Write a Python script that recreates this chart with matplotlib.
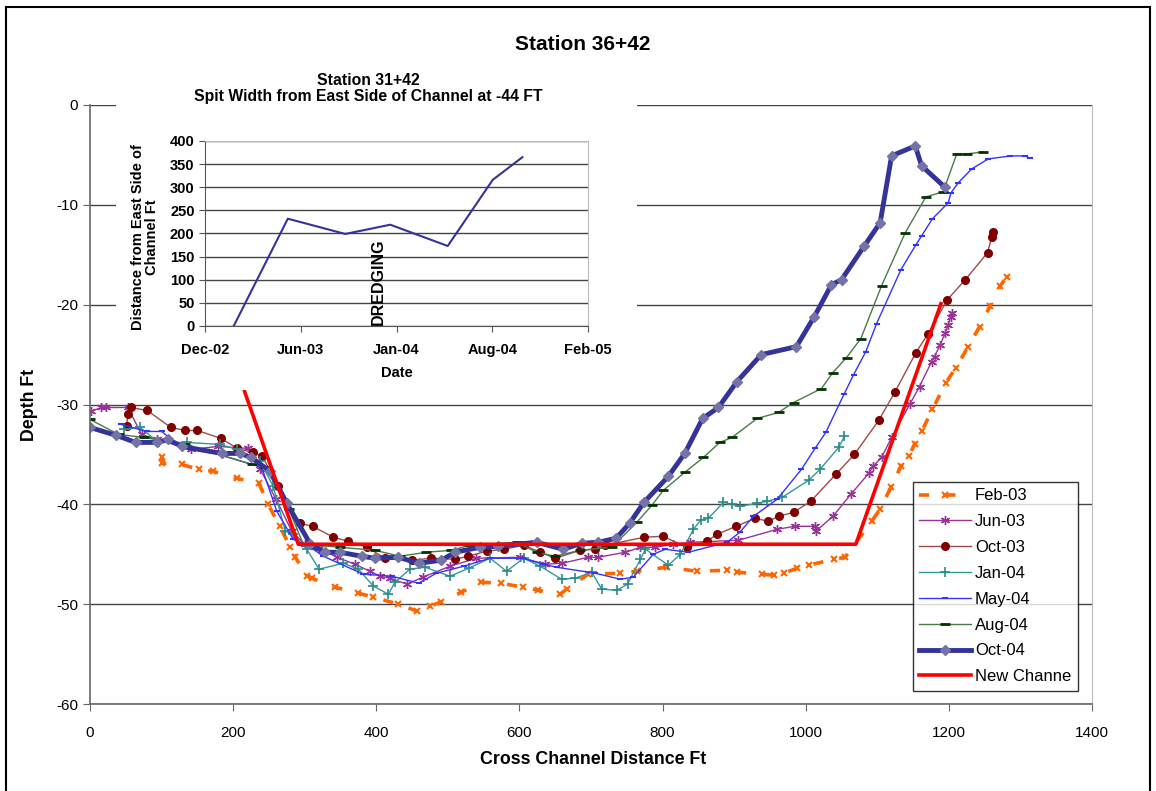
import matplotlib
matplotlib.use('Agg')
import matplotlib.pyplot as plt
from matplotlib.patches import Rectangle
from datetime import datetime

plt.rcParams['font.family'] = ['Liberation Sans', 'DejaVu Sans']
plt.rcParams['axes.unicode_minus'] = False

# ---- main chart: cross sections (distance ft, depth ft) ----
feb03_x = [100, 101, 128, 152, 172, 206, 236, 249, 265, 280, 287, 303, 310, 342, 375, 396, 431, 457, 475, 490,
           519, 547, 574, 605, 626, 657, 666, 696, 740, 764, 806, 848, 890, 904, 939, 955, 969, 988, 1004, 1039,
           1055, 1092, 1104, 1119, 1133, 1144, 1152, 1162, 1177, 1196, 1210, 1227, 1243, 1258, 1272, 1281]
feb03_y = [-35.3, -35.9, -36.0, -36.5, -36.7, -37.4, -37.9, -40.0, -42.2, -44.3, -45.3, -47.2, -47.4, -48.3, -48.9,
           -49.3, -50.0, -50.7, -50.2, -49.8, -48.8, -47.8, -47.9, -48.3, -48.6, -49.0, -48.5, -47.0, -46.9, -46.7,
           -46.3, -46.7, -46.6, -46.8, -47.0, -47.1, -46.9, -46.4, -46.1, -45.5, -45.3, -41.7, -40.5, -38.3, -36.2,
           -35.2, -34.0, -32.7, -30.5, -27.8, -26.3, -24.2, -22.2, -20.1, -18.1, -17.2]

jun03_x = [1, 16, 22, 53, 72, 93, 141, 179, 221, 238, 260, 282, 300, 320, 345, 370, 391, 405, 419, 443,
           465, 503, 540, 601, 636, 660, 696, 710, 748, 769, 790, 815, 839, 906, 960, 985, 1013, 1014, 1038, 1063,
           1088, 1094, 1106, 1120, 1146, 1159, 1176, 1180, 1188, 1195, 1199, 1203, 1204]
jun03_y = [-30.7, -30.3, -30.3, -30.3, -33.0, -33.5, -34.5, -34.2, -34.4, -36.5, -39.5, -42.7, -44.0, -44.4, -45.3,
           -46.0, -46.7, -47.2, -47.4, -48.0, -47.3, -46.2, -45.4, -45.3, -46.0, -45.9, -45.3, -45.3, -44.8, -44.3,
           -44.3, -44.0, -43.8, -43.6, -42.5, -42.2, -42.2, -42.7, -41.2, -39.0, -36.9, -36.2, -35.3, -33.3, -29.9,
           -28.2, -25.7, -25.2, -24.0, -22.8, -22.0, -21.2, -20.8]

oct03_x = [51, 53, 57, 80, 113, 133, 150, 183, 206, 228, 241, 263, 293, 311, 340, 361, 387, 412, 450, 476,
           510, 528, 554, 578, 606, 629, 650, 685, 706, 720, 774, 800, 834, 862, 876, 903, 929, 948, 962, 983,
           1007, 1042, 1068, 1102, 1125, 1154, 1171, 1198, 1223, 1254, 1260, 1261]
oct03_y = [-32.2, -31.0, -30.3, -30.6, -32.3, -32.6, -32.6, -33.4, -34.4, -34.8, -35.2, -38.2, -41.9, -42.2, -43.3,
           -43.7, -44.3, -45.4, -45.6, -45.4, -45.5, -45.2, -44.7, -44.5, -44.1, -44.8, -45.4, -44.6, -44.5, -44.1,
           -43.3, -43.2, -44.3, -43.7, -43.0, -42.2, -41.4, -41.7, -41.2, -40.8, -39.7, -37.0, -35.0, -31.6, -28.7,
           -24.8, -22.9, -19.5, -17.5, -14.8, -13.2, -12.7]

jan04_x = [47, 70, 96, 135, 182, 205, 238, 256, 273, 284, 303, 320, 354, 375, 396, 417, 426, 447, 468, 503,
           529, 559, 582, 606, 629, 659, 678, 701, 715, 736, 751, 769, 776, 808, 825, 843, 853, 864, 885, 897,
           908, 932, 946, 967, 1004, 1020, 1046, 1054]
jan04_y = [-32.5, -32.3, -33.8, -33.8, -34.0, -34.5, -35.7, -38.2, -42.7, -43.0, -44.5, -46.5, -45.9, -46.5, -48.2,
           -49.0, -47.8, -46.5, -46.3, -47.2, -46.4, -45.4, -46.7, -45.4, -46.2, -47.5, -47.4, -46.8, -48.5, -48.6,
           -48.0, -45.5, -44.5, -46.1, -45.0, -42.5, -41.6, -41.4, -39.8, -40.0, -40.2, -39.9, -39.7, -39.3, -37.6,
           -36.5, -34.3, -33.2]

may04_x = [44, 79, 100, 126, 180, 240, 261, 284, 312, 326, 382, 422, 459, 484, 522, 559, 605, 633, 652, 706,
           741, 759, 787, 804, 836, 890, 908, 927, 960, 994, 1013, 1028, 1054, 1067, 1084, 1099, 1133, 1154, 1162,
           1177, 1199, 1203, 1213, 1232, 1255, 1286, 1306, 1313]
may04_y = [-32.0, -32.7, -32.7, -34.2, -35.0, -36.3, -40.7, -43.5, -44.5, -45.2, -47.0, -47.2, -47.9, -46.9, -46.2,
           -45.4, -45.4, -46.0, -46.3, -46.9, -47.5, -47.3, -45.0, -44.5, -44.8, -43.8, -42.8, -41.2, -39.5, -36.5,
           -34.4, -32.8, -28.9, -27.0, -24.7, -21.9, -16.5, -14.0, -13.1, -11.4, -9.8, -8.8, -7.8, -6.4, -5.4,
           -5.1, -5.1, -5.3]

aug04_x = [0, 40, 75, 133, 226, 245, 278, 298, 349, 398, 433, 470, 505, 531, 596, 624, 650, 685, 729, 764,
           785, 801, 831, 857, 880, 897, 932, 962, 983, 1022, 1038, 1057, 1077, 1106, 1139, 1168, 1192, 1211, 1225, 1248]
aug04_y = [-31.5, -33.0, -33.3, -34.0, -36.0, -36.3, -40.5, -44.0, -44.3, -44.6, -45.2, -44.8, -44.6, -44.1, -43.8,
           -44.8, -45.2, -44.6, -44.3, -41.8, -40.1, -38.6, -36.8, -35.3, -33.8, -33.3, -31.4, -30.8, -29.8, -28.4,
           -26.8, -25.3, -23.4, -18.1, -12.8, -9.2, -8.7, -4.9, -4.9, -4.7]

oct04_x = [0, 37, 64, 93, 109, 128, 184, 210, 225, 252, 275, 308, 328, 349, 380, 398, 431, 459, 491, 510,
           545, 570, 624, 661, 687, 710, 735, 754, 774, 808, 831, 856, 878, 904, 938, 987, 1012, 1036, 1050, 1082,
           1104, 1120, 1153, 1162, 1194]
oct04_y = [-32.3, -33.1, -33.8, -33.8, -33.5, -34.2, -34.9, -34.9, -35.3, -36.7, -39.9, -44.0, -44.8, -44.8, -45.2,
           -45.4, -45.3, -45.9, -45.6, -44.8, -44.3, -44.2, -43.8, -44.5, -43.9, -43.8, -43.4, -41.9, -39.8, -37.2,
           -34.9, -31.4, -30.3, -27.7, -25.0, -24.2, -21.2, -18.0, -17.5, -14.1, -11.8, -5.1, -4.1, -6.1, -8.2]

new_x = [216, 291, 1070, 1189]
new_y = [-28.7, -44.0, -44.0, -19.9]

# ---- inset: spit width vs survey date ----
spit_dates = [datetime(2003, 2, 8), datetime(2003, 6, 1), datetime(2003, 9, 29), datetime(2004, 1, 1),
              datetime(2004, 4, 30), datetime(2004, 8, 2), datetime(2004, 10, 3)]
spit_width = [0, 232, 199, 219, 173, 316, 365]
date_ticks = [datetime(2002, 12, 10), datetime(2003, 6, 28), datetime(2004, 1, 14),
              datetime(2004, 8, 1), datetime(2005, 2, 17)]
date_labels = ['Dec-02', 'Jun-03', 'Jan-04', 'Aug-04', 'Feb-05']
dredging_date = datetime(2003, 12, 8)

W, H = 1156, 791
fig = plt.figure(figsize=(W / 100, H / 100), dpi=100)

ax = fig.add_axes([90 / W, 1 - 704 / H, (1092 - 90) / W, (704 - 105) / H])
ax.set_zorder(1)

ax.plot(feb03_x, feb03_y, color='#FF6600', lw=2.6, dashes=(2.8, 4.5), marker='x', ms=4, mew=1.5, label='Feb-03')
ax.plot(jun03_x, jun03_y, color='#993399', lw=1, marker=(6, 2, 0), ms=6.5, mew=1, label='Jun-03')
ax.plot(oct03_x, oct03_y, color='#9E4A4A', lw=1, marker='o', ms=5.5, mfc='#800000', mec='#800000', label='Oct-03')
ax.plot(jan04_x, jan04_y, color='#339999', lw=1, marker='+', ms=7, mew=1.2, mec='#2A8A8A', label='Jan-04')
ax.plot(may04_x, may04_y, color='#3333FF', lw=1, marker='_', ms=5, mew=1.5, label='May-04')
ax.plot(aug04_x, aug04_y, color='#4A7A4A', lw=1, marker='_', ms=7, mew=2, mec='#003300', label='Aug-04')
ax.plot(oct04_x, oct04_y, color='#333399', lw=3.5, marker='D', ms=5, mfc='#7373A6', mec='#7373A6', label='Oct-04')
ax.plot(new_x, new_y, color='#FF0000', lw=2.6, label='New Channe')

ax.set_xlim(0, 1400)
ax.set_ylim(-60, 0)
ax.set_xticks(range(0, 1401, 200))
ax.set_yticks(range(-60, 1, 10))
ax.yaxis.grid(True, color='#444444', lw=1)
ax.set_axisbelow(True)
ax.tick_params(direction='out', length=5, labelsize=11, color='#666666')
ax.tick_params(axis='x', pad=11)
for s in ['left', 'bottom']:
    ax.spines[s].set_color('#666666')
    ax.spines[s].set_linewidth(1.2)
ax.spines['top'].set_visible(False)
ax.spines['right'].set_color('#BBBBBB')

leg = ax.legend(loc='upper left', bbox_to_anchor=(0.8214, 0.3706), borderaxespad=0, fontsize=12,
                frameon=True, fancybox=False, edgecolor='black', handlelength=3.1, labelspacing=0.65,
                borderpad=0.38, handletextpad=0.24)
leg.get_frame().set_linewidth(1)

fig.text(583 / W, 1 - 44 / H, 'Station 36+42', ha='center', va='center', fontsize=15, fontweight='bold')
fig.text(593 / W, 1 - 760 / H, 'Cross Channel Distance Ft', ha='center', va='center', fontsize=12.8,
         fontweight='bold')
fig.text(30 / W, 1 - 405 / H, 'Depth Ft', ha='center', va='center', rotation=90, fontsize=12.8, fontweight='bold')

# white backing for the inset
bg = fig.add_axes([116 / W, 1 - 390 / H, (637 - 116) / W, (390 - 62) / H])
bg.set_zorder(2)
bg.set_facecolor('white')
bg.set_xticks([])
bg.set_yticks([])
for s in bg.spines.values():
    s.set_visible(False)

ax_in = fig.add_axes([205 / W, 1 - 326 / H, (588 - 205) / W, (326 - 141) / H])
ax_in.set_zorder(3)
ax_in.plot(spit_dates, spit_width, color='#333399', lw=1.5)
ax_in.set_xlim(date_ticks[0], date_ticks[-1])
ax_in.set_ylim(0, 400)
ax_in.set_xticks(date_ticks)
ax_in.set_xticklabels(date_labels)
ax_in.set_yticks(range(0, 401, 50))
ax_in.yaxis.grid(True, color='#444444', lw=1)
ax_in.set_axisbelow(True)
ax_in.tick_params(direction='out', length=4, labelsize=10.5, color='#555555')
ax_in.tick_params(axis='x', pad=8)
for lab in ax_in.get_xticklabels() + ax_in.get_yticklabels():
    lab.set_fontweight('bold')
ax_in.spines['top'].set_color('#BBBBBB')
ax_in.spines['right'].set_color('#BBBBBB')
ax_in.spines['left'].set_color('#555555')
ax_in.spines['bottom'].set_color('#555555')
ax_in.text(dredging_date, 3, 'DREDGING', rotation=90, ha='center', va='bottom', fontsize=11.5, fontweight='bold')

fig.text(368 / W, 1 - 88.5 / H, 'Station 31+42\nSpit Width from East Side of Channel at -44 FT',
         ha='center', va='center', fontsize=11.3, fontweight='bold', linespacing=1.1, zorder=10)
fig.text(145 / W, 1 - 237 / H, 'Distance from East Side of\nChannel Ft', ha='center', va='center',
         rotation=90, fontsize=10.5, fontweight='bold', linespacing=1.05, zorder=10)
fig.text(397 / W, 1 - 373 / H, 'Date', ha='center', va='center', fontsize=10.5, fontweight='bold', zorder=10)

# outer chart border
fig.add_artist(Rectangle((6 / W, -0.05), (1150 - 6) / W, 1.05 - 7 / H, transform=fig.transFigure,
                         fill=False, edgecolor='black', lw=1.5))

fig.savefig('out.png', dpi=100)
